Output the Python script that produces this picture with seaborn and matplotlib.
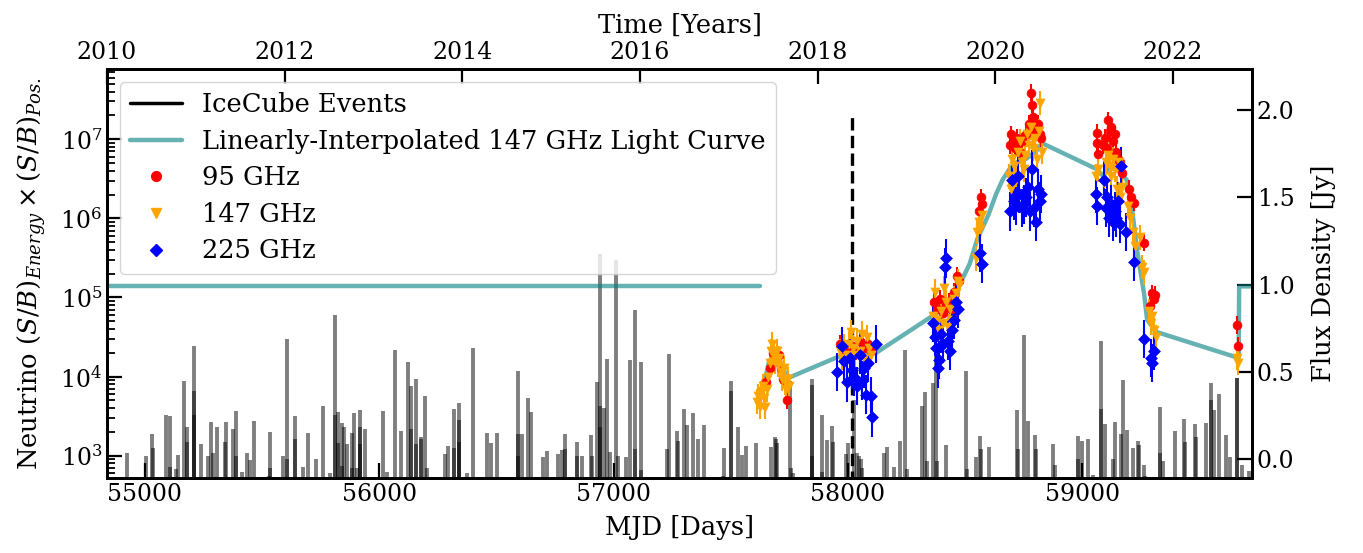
import numpy as np
import pandas as pd
import matplotlib
matplotlib.use("Agg")
import matplotlib.pyplot as plt
from matplotlib.lines import Line2D
from matplotlib.ticker import LogLocator, NullFormatter, MultipleLocator
import seaborn as sns

# ---------------------------------------------------------------- data
# IceCube neutrino events: arrival time (MJD) and (S/B)_Energy x (S/B)_Pos
nu_mjd = [
    54925, 55003, 55031, 55033, 55089, 55109, 55109, 55133, 55141, 55166,
    55178, 55180, 55208, 55208, 55208, 55240, 55270, 55283, 55292, 55309,
    55340, 55345, 55375, 55387, 55387, 55414, 55435, 55448, 55466, 55529,
    55535, 55535, 55588, 55605, 55605, 55640, 55640,
    55674, 55695, 55730, 55761, 55789, 55810, 55810, 55824, 55824, 55840,
    55840, 55850, 55864, 55885, 55885, 55892, 55905, 55918, 55918, 55918,
    55941, 56015, 56034, 56066, 56094, 56121, 56135, 56135, 56157, 56157,
    56178, 56178, 56196, 56202, 56232, 56238, 56279, 56295, 56320, 56320,
    56341, 56341, 56341, 56376, 56399, 56460, 56477,
    56501, 56594, 56594, 56594, 56610, 56634, 56649, 56670, 56699, 56717,
    56762, 56779, 56794, 56794, 56842, 56845, 56865, 56902, 56906, 56929,
    56940, 56940, 56940, 56959, 56973, 56985, 57011, 57020, 57054, 57072,
    57091, 57091, 57115, 57118, 57226, 57237, 57271, 57275, 57299,
    57312, 57341, 57362, 57384, 57470, 57468, 57502, 57502, 57530, 57550,
    57566, 57608, 57674, 57691, 57695, 57699, 57753, 57758, 57765, 57845,
    57845, 57845, 57890, 57888, 57909, 57933, 57938, 57990, 57999, 58028,
    58040, 58048, 58055, 58060,
    58153, 58167, 58197, 58221, 58245, 58252, 58318, 58331, 58336, 58362,
    58374, 58380, 58420, 58505, 58510, 58545, 58565, 58567, 58602, 58723,
    58726, 58751, 58768, 58798, 58802, 58877, 58884,
    58984, 58984, 59001, 59025, 59047, 59082, 59082, 59098, 59130, 59139,
    59165, 59175, 59190, 59217, 59240, 59242, 59265, 59270, 59331, 59333,
    59345, 59397, 59435, 59440, 59481, 59485, 59528, 59549, 59549, 59563,
    59584, 59612, 59633, 59660, 59660, 59680, 59713,
]
nu_sb = [
    1080, 1000, 1870, 1240, 3300, 3200, 720, 670, 1030, 8900,
    2300, 1500, 24500, 6500, 3300, 1400, 1000, 2650, 1070, 2300,
    1500, 2650, 2150, 3700, 1000, 620, 1070, 890, 2770, 550,
    1980, 700, 1000, 30000, 900, 3170, 1600,
    725, 1920, 900, 4280, 600, 60000, 3300, 3550, 1450, 2580,
    750, 2330, 1420, 1920, 700, 3460, 700, 3780, 2300, 1400,
    2200, 3700, 620, 21500, 2040, 15100, 7700, 2200, 9350, 1400,
    1740, 1600, 5670, 700, 530, 530, 1050, 1330, 3920, 1250,
    4670, 2800, 1500, 600, 22700, 1920, 1460,
    1920, 11900, 1900, 1000, 1870, 5420, 3590, 540, 950, 1140,
    1060, 1180, 1870, 1230, 1500, 1000, 1000, 1820, 1000, 8550,
    355000, 4200, 2300, 4000, 16900, 1100, 293000, 1000, 950, 16400,
    69000, 1200, 15100, 650, 1230, 19500, 2020, 1550, 3900,
    2450, 3460, 1620, 2440, 1240, 560, 8800, 6500, 2300, 1030,
    1330, 1460, 1300, 1730, 1630, 1460, 8900, 700, 600, 9350,
    7900, 1000, 3290, 620, 1580, 2380, 1500, 1050, 1440, 5100,
    1070, 1000, 900, 700,
    1070, 1300, 720, 1530, 21800, 680, 4190, 6300, 850, 8300,
    21500, 850, 1350, 11700, 680, 950, 1750, 1200, 1290, 3800,
    1200, 33500, 2780, 1820, 1200, 1420, 770,
    1780, 920, 1550, 1630, 570, 28300, 3900, 2530, 920, 2650,
    1870, 8950, 2080, 1260, 1530, 1380, 760, 560, 4110, 1070,
    850, 2020, 2900, 1500, 2500, 1700, 2580, 8300, 5000, 3800,
    6000, 1800, 950, 9500, 9500, 770, 640,
]

# IceCube-170922A alert
alert_mjd = 58018.87
alert_sb = 2.0e7

# Radio light curves (MJD, flux density in Jy)
mjd_95 = [
    57650, 57668, 57682, 57694, 57706, 57716, 57724, 57742,
    57968, 57985, 58000, 58018, 58035, 58052, 58068, 58085, 58098,
    58368, 58380, 58392, 58404, 58418, 58430, 58442, 58455, 58466, 58475,
    58560, 58568, 58572,
    58690, 58698, 58705, 58712, 58720, 58728, 58736, 58745, 58760, 58775,
    58783, 58786, 58792, 58800, 58810, 58818, 58826,
    59062, 59065, 59068, 59090, 59098, 59105, 59112, 59118, 59125, 59130,
    59138, 59145, 59152, 59160, 59168,
    59200, 59210, 59220, 59262, 59290, 59298, 59306, 59312,
    59662, 59663,
]
flux_95 = [
    0.44, 0.52, 0.61, 0.58, 0.60, 0.52, 0.46, 0.34,
    0.66, 0.62, 0.60, 0.65, 0.62, 0.68, 0.64, 0.66, 0.62,
    0.90, 0.86, 0.92, 0.84, 0.88, 0.90, 0.86, 0.96, 1.05, 1.02,
    1.42, 1.50, 1.46,
    1.80, 1.86, 1.82, 1.78, 1.84, 1.80, 1.76, 1.82, 1.86, 1.92,
    2.10, 2.03, 1.96, 1.88, 1.92, 1.86, 1.84,
    1.87, 1.81, 1.75, 1.80, 1.84, 1.78, 1.94, 1.88, 1.90, 1.82,
    1.86, 1.76, 1.72, 1.70, 1.64,
    1.55, 1.50, 1.47, 1.24, 0.88, 0.95, 0.92, 0.94,
    0.77, 0.65,
]
mjd_147 = [
    57612, 57618, 57624, 57630, 57636, 57642, 57648, 57654, 57660, 57666,
    57672, 57678, 57684, 57690, 57696, 57702, 57708, 57714, 57720, 57726,
    57732, 57738, 57744, 57750,
    57965, 57975, 57985, 57995, 58005, 58015, 58022, 58030, 58040, 58050,
    58060, 58070, 58080, 58090, 58100,
    58365, 58372, 58380, 58388, 58396, 58404, 58412, 58420, 58428, 58436,
    58444, 58452, 58460, 58468, 58476,
    58545, 58552, 58560, 58566, 58574,
    58688, 58695, 58702, 58710, 58718, 58726, 58734, 58742, 58750, 58758,
    58766, 58774, 58782, 58790, 58798, 58806, 58814, 58822, 58828,
    59060, 59068, 59095, 59102, 59110, 59118, 59125, 59132, 59140, 59148,
    59156, 59163, 59170,
    59195, 59205, 59215, 59225, 59245, 59255, 59262, 59285, 59292, 59300,
    59308, 59316,
    59662, 59664,
]
flux_147 = [
    0.33, 0.36, 0.30, 0.38, 0.42, 0.35, 0.30, 0.40, 0.47, 0.55,
    0.62, 0.66, 0.60, 0.56, 0.62, 0.54, 0.58, 0.50, 0.46, 0.52,
    0.44, 0.40, 0.46, 0.42,
    0.62, 0.58, 0.65, 0.60, 0.66, 0.73, 0.64, 0.60, 0.68, 0.62,
    0.72, 0.58, 0.70, 0.64, 0.60,
    0.82, 0.96, 0.80, 0.74, 0.85, 0.78, 0.98, 0.90, 0.76, 0.86,
    0.80, 0.92, 0.95, 1.02, 1.00,
    1.15, 1.30, 1.36, 1.32, 1.40,
    1.62, 1.55, 1.72, 1.68, 1.60, 1.76, 1.82, 1.70, 1.66, 1.74,
    1.86, 1.80, 1.90, 1.78, 1.84, 1.72, 1.88, 2.04, 1.76,
    1.62, 1.66, 1.58, 1.70, 1.74, 1.68, 1.62, 1.72, 1.66, 1.55,
    1.70, 1.50, 1.56,
    1.45, 1.38, 1.30, 1.22, 1.27, 1.10, 1.07, 0.85, 0.78, 0.82,
    0.74, 0.70,
    0.58, 0.55,
]
mjd_225 = [
    57955, 57977, 57985, 57998, 58008, 58019, 58028, 58040, 58050, 58060,
    58070, 58078, 58088, 58100, 58104, 58121,
    58362, 58370, 58378, 58386, 58390, 58398, 58406, 58414, 58420, 58428,
    58436, 58444, 58452, 58460, 58470,
    58566, 58572,
    58692, 58700, 58708, 58716, 58724, 58732, 58742, 58752, 58762, 58770,
    58778, 58786, 58794, 58802, 58810, 58818, 58826,
    59058, 59064, 59092, 59100, 59108, 59115, 59122, 59130, 59138, 59146,
    59152, 59160, 59166,
    59185, 59222, 59262, 59294, 59300, 59306,
]
flux_225 = [
    0.50, 0.65, 0.56, 0.44, 0.58, 0.51, 0.47, 0.42, 0.60, 0.45,
    0.52, 0.37, 0.55, 0.36, 0.24, 0.66,
    0.78, 0.70, 0.64, 0.52, 0.57, 0.72, 0.66, 1.10, 1.15, 0.68,
    0.62, 0.74, 0.80, 0.90, 0.86,
    1.18, 1.12,
    1.42, 1.60, 1.48, 1.45, 1.62, 1.52, 1.44, 1.46, 1.50, 1.56,
    1.42, 1.66, 1.44, 1.36, 1.55, 1.48, 1.52,
    1.52, 1.45, 1.60, 1.44, 1.50, 1.38, 1.46, 1.36, 1.42, 1.38,
    1.48, 1.35, 1.68,
    1.30, 1.13, 0.69, 0.58, 0.55, 0.62,
]
err_95, err_147, err_225 = 0.05, 0.07, 0.11

# Linearly-interpolated 147 GHz light curve (value outside coverage held at 0.99 Jy)
fill_mjd = [54838, 57623]
fill_flux = [0.99, 0.99]
lc_mjd = [
    57612, 57625, 57640, 57652, 57662, 57674, 57690, 57705, 57720, 57740,
    57753, 57964, 57990, 58020, 58060, 58100, 58121, 58360, 58400, 58440,
    58470, 58488, 58520, 58552, 58600, 58633, 58660, 58689, 58720, 58760,
    58800, 58829, 59064, 59090, 59120, 59150, 59190, 59213, 59235, 59264,
    59277, 59315, 59668, 59670, 59730,
]
lc_flux = [
    0.33, 0.38, 0.45, 0.49, 0.55, 0.58, 0.55, 0.57, 0.52, 0.48,
    0.47, 0.59, 0.62, 0.61, 0.60, 0.62, 0.61, 0.82, 0.86, 0.92,
    0.98, 1.03, 1.12, 1.26, 1.40, 1.52, 1.60, 1.66, 1.70, 1.72,
    1.76, 1.81, 1.66, 1.62, 1.68, 1.66, 1.60, 1.43, 1.19, 0.95,
    0.80, 0.73, 0.58, 0.99, 0.99,
]

mjd_ticks = [55000, 56000, 57000, 58000, 59000]

# ---------------------------------------------------------------- style
sns.set_style("ticks")
plt.rcParams.update({
    "font.family": ["DejaVu Serif"],
    "mathtext.fontset": "dejavuserif",
    "axes.edgecolor": "black",
    "xtick.color": "black",
    "ytick.color": "black",
    "text.color": "black",
    "axes.labelcolor": "black",
    "axes.linewidth": 2.0,
})

fig = plt.figure(figsize=(13.63, 5.53), dpi=100)
ax = fig.add_axes([0.0785, 0.135, 0.8401, 0.740])
ax2 = ax.twinx()
ax3 = ax.twiny()

# neutrino events
ax.set_yscale("log")
ax.vlines(nu_mjd, 1, nu_sb, colors="black", alpha=0.5, linewidth=2.8, zorder=1)
ax.vlines([alert_mjd], 1, [alert_sb], colors="black", linestyles="--",
          linewidth=2.4, zorder=2)
ax.set_xlim(54838, 59725)
ax.set_ylim(10 ** 2.713, 10 ** 7.886)
ax.set_xticks(mjd_ticks)
ax.yaxis.set_major_locator(LogLocator(base=10, numticks=12))
ax.yaxis.set_minor_locator(LogLocator(base=10, subs=np.arange(2, 10), numticks=12))
ax.yaxis.set_minor_formatter(NullFormatter())
ax.set_xlabel("MJD [Days]", fontsize=18.5, labelpad=6)
ax.set_ylabel(r"Neutrino $(S/B)_{Energy} \times (S/B)_{Pos.}$", fontsize=18.5,
              labelpad=9)
ax.tick_params(axis="both", which="major", direction="in", length=11, width=1.6,
               labelsize=17)
ax.tick_params(axis="y", which="minor", direction="in", length=6, width=1.3)
ax.tick_params(axis="x", which="minor", bottom=False, top=False)

# radio light curves
ax2.set_zorder(ax.get_zorder() + 1)
ax2.patch.set_visible(False)
sns.lineplot(x=fill_mjd, y=fill_flux, ax=ax2, color="teal", alpha=0.6,
             linewidth=3.2, sort=False, estimator=None)
sns.lineplot(x=lc_mjd, y=lc_flux, ax=ax2, color="teal", alpha=0.6,
             linewidth=3.2, sort=False, estimator=None)

bands = [
    (mjd_95, flux_95, err_95, "red", "o", 40),
    (mjd_147, flux_147, err_147, "orange", "v", 42),
    (mjd_225, flux_225, err_225, "blue", "D", 36),
]
for mjd, flux, err, col, mk, sz in bands:
    ax2.errorbar(mjd, flux, yerr=err, fmt="none", ecolor=col, elinewidth=1.5,
                 capsize=0, zorder=3)
    sns.scatterplot(x=mjd, y=flux, ax=ax2, color=col, marker=mk, s=sz,
                    edgecolor=col, linewidth=0.5, zorder=4)

ax2.set_ylim(-0.109, 2.234)
ax2.yaxis.set_major_locator(MultipleLocator(0.5))
ax2.set_ylabel("Flux Density [Jy]", fontsize=18.5, labelpad=12)
ax2.tick_params(axis="y", which="major", direction="in", length=11, width=1.6,
                labelsize=17)

# calendar-year axis
ax3.set_zorder(ax2.get_zorder() + 1)
ax3.patch.set_visible(False)
ax3.set_xlim(2010, 2022.89)
ax3.xaxis.set_major_locator(MultipleLocator(2))
ax3.set_xlabel("Time [Years]", fontsize=18.5, labelpad=6)
ax3.tick_params(axis="x", which="major", direction="in", length=11, width=1.6,
                labelsize=17)

for a in (ax, ax2, ax3):
    for s in a.spines.values():
        s.set_linewidth(2.0)
        s.set_color("black")

handles = [
    Line2D([], [], color="black", linewidth=2.5),
    Line2D([], [], color="teal", alpha=0.6, linewidth=3.2),
    Line2D([], [], color="red", marker="o", linestyle="none", markersize=7),
    Line2D([], [], color="orange", marker="v", linestyle="none", markersize=7),
    Line2D([], [], color="blue", marker="D", linestyle="none", markersize=6.5),
]
labels = ["IceCube Events", "Linearly-Interpolated 147 GHz Light Curve",
          "95 GHz", "147 GHz", "225 GHz"]
ax3.legend(handles, labels, loc="upper left", fontsize=18.5, frameon=True,
           framealpha=0.8, edgecolor="0.8", fancybox=True, labelspacing=0.45)

fig.savefig("out.png", dpi=100)
